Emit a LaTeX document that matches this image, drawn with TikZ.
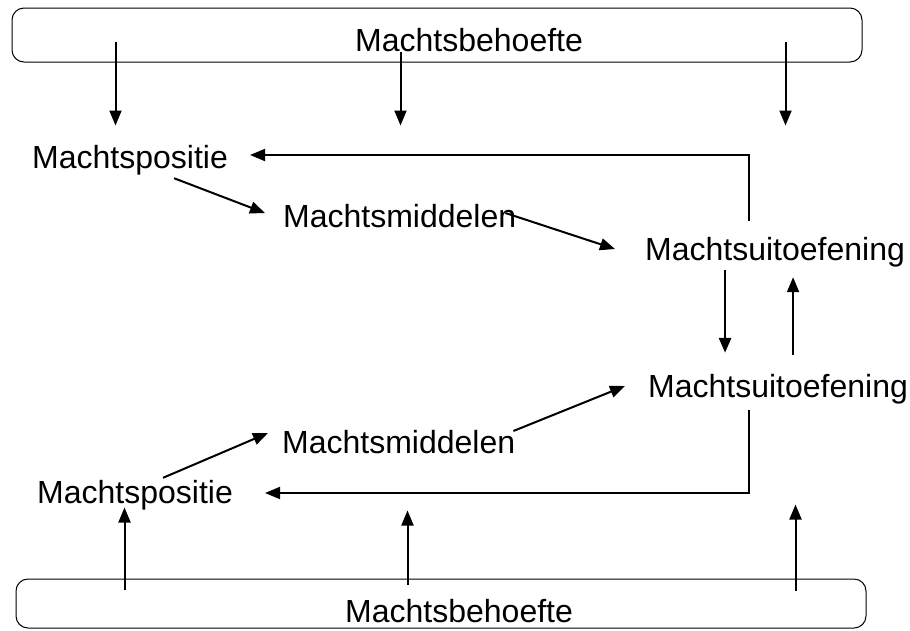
\documentclass[tikz,border=0pt]{standalone}
\usepackage{fontspec}
\setmainfont{Liberation Sans}
\usetikzlibrary{arrows.meta}

\begin{document}
\begin{tikzpicture}[x=1pt,y=-1pt,
    lbl/.style={font=\fontsize{32}{36}\selectfont,inner sep=0pt,anchor=base west,text height=23pt,text depth=7pt},
    needbox/.style={draw,rounded corners=12pt,minimum width=850pt,inner sep=0pt,line width=1pt},
    arr/.style={line width=2pt,-{Triangle[length=15pt,width=12pt]}}]
    \useasboundingbox (0,0) rectangle (910,630);
    \node[needbox,minimum height=54pt] (needTop) at (437,35) {};
    \node[needbox,minimum height=49pt] (needBot) at (441,603.5) {};
    \node[lbl] (needTopTxt) at (355,51) {Machtsbehoefte};
    \node[lbl] (needBotTxt) at (345,622) {Machtsbehoefte};
    \node[lbl] (posTop) at (32,168) {Machtspositie};
    \node[lbl] (midTop) at (283,227) {Machtsmiddelen};
    \node[lbl] (exerTop) at (645,260) {Machtsuitoefening};
    \node[lbl] (exerBot) at (648,397) {Machtsuitoefening};
    \node[lbl] (midBot) at (282,453) {Machtsmiddelen};
    \node[lbl] (posBot) at (37,503) {Machtspositie};
    \draw[arr] ([shift={(104,34)}]needTop.north west) -- ++(0,84);
    \draw[arr] ([shift={(389,44)}]needTop.north west) -- ++(0,74);
    \draw[arr] ([shift={(774,34)}]needTop.north west) -- ++(0,84);
    \draw[arr] ([shift={(44,3)}]posTop.south) -- ([shift={(-18,-6)}]midTop.west);
    \draw[arr] ([shift={(-11,-6)}]midTop.east) -- ([shift={(-30,-3)}]exerTop.west);
    \draw[arr] ([shift={(-26,-16)}]exerTop.north) |- ([shift={(22,-5)}]posTop.east);
    \draw[arr,line width=2.8pt] ([shift={(-50,3)}]exerTop.south) -- ([shift={(-53,-21)}]exerBot.north);
    \draw[arr] ([shift={(15,-19)}]exerBot.north) -- ([shift={(18,10)}]exerTop.south);
    \draw[arr] ([shift={(28,-2)}]posBot.north) -- ([shift={(-14,-12)}]midBot.west);
    \draw[arr] ([shift={(-2,-14)}]midBot.east) -- ([shift={(-23,-3)}]exerBot.west);
    \draw[arr] ([shift={(-29,6)}]exerBot.south) |- ([shift={(32,-2)}]posBot.east);
    \draw[arr] ([shift={(109,11)}]needBot.north west) -- ++(0,-82);
    \draw[arr] ([shift={(392,6)}]needBot.north west) -- ++(0,-74);
    \draw[arr] ([shift={(780,12)}]needBot.north west) -- ++(0,-86);
  \end{tikzpicture}
\end{document}
